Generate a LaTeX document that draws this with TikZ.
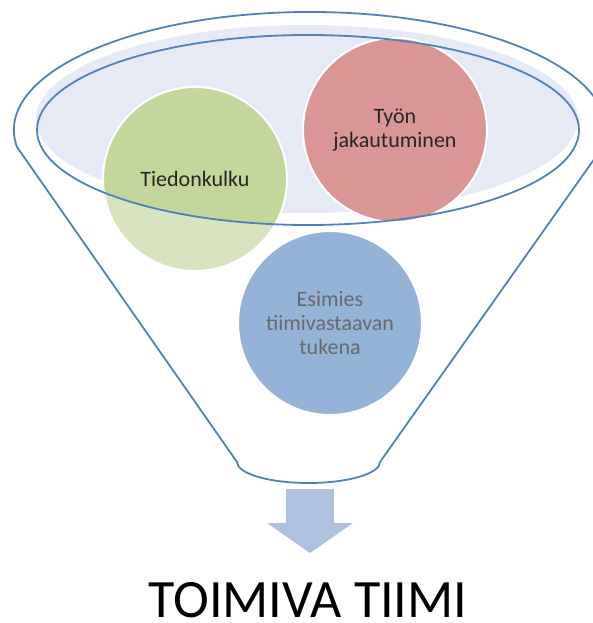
\documentclass[tikz,border=0pt]{standalone}
\definecolor{rimblue}{RGB}{79, 129, 189}
\definecolor{rimfill}{RGB}{229, 234, 244}
\definecolor{greendk}{RGB}{195, 214, 155}
\definecolor{greenlt}{RGB}{216, 228, 190}
\definecolor{redfill}{RGB}{217, 150, 148}
\definecolor{bluefill}{RGB}{149, 179, 215}
\definecolor{arrowfill}{RGB}{174, 193, 222}
\definecolor{greytext}{RGB}{105, 105, 105}
\usepackage{fontspec}
\setmainfont{Carlito}
\usepackage{tikz}
\usetikzlibrary{calc}

\tikzset{
  bubble/.style={circle, draw=white, line width=2pt, minimum size=184pt, inner sep=0pt,
    align=center, font=\fontsize{22}{24}\selectfont, text=black!85},
  rimline/.style={rimblue, line width=1.8pt},
}

\begin{document}
\begin{tikzpicture}[x=1pt, y=1pt]
  \clip (0,0) rectangle (593,-623);

  % Rim of the funnel
  \coordinate (rim) at (308,-130);
  \fill[rimfill] (307,-119) ellipse [x radius=271, y radius=94];

  % Bubbles
  \node[bubble, fill=greenlt, path picture={
      \fill[greendk] (rim) ellipse [x radius=271, y radius=95];
    }] (tieto) at (195,-179) {Tiedonkulku};
  \node[bubble, fill=redfill] (tyo) at (395,-130) {Työn\\jakautuminen};
  \node[bubble, fill=bluefill, text=greytext] (esimies) at (330,-323) {Esimies\\tiimivastaavan\\tukena};

  % Funnel outline
  \draw[rimline] (17,-147) arc[start angle=188.3, end angle=-8.3, x radius=296, y radius=118]
    -- (380,-462) arc[start angle=0, end angle=-180, x radius=71.5, y radius=21] -- cycle;
  \draw[rimline] (rim) ellipse [x radius=271, y radius=95];

  % Arrow down
  \fill[arrowfill] (286,-489) -- (334,-489) -- (334,-523) -- (353,-523) -- (310,-553)
    -- (267,-523) -- (286,-523) -- cycle;

  % Result
  \node[font=\fontsize{54}{60}\selectfont, inner sep=0pt] (tulos) at (308,-600) {TOIMIVA TIIMI};
\end{tikzpicture}
\end{document}
